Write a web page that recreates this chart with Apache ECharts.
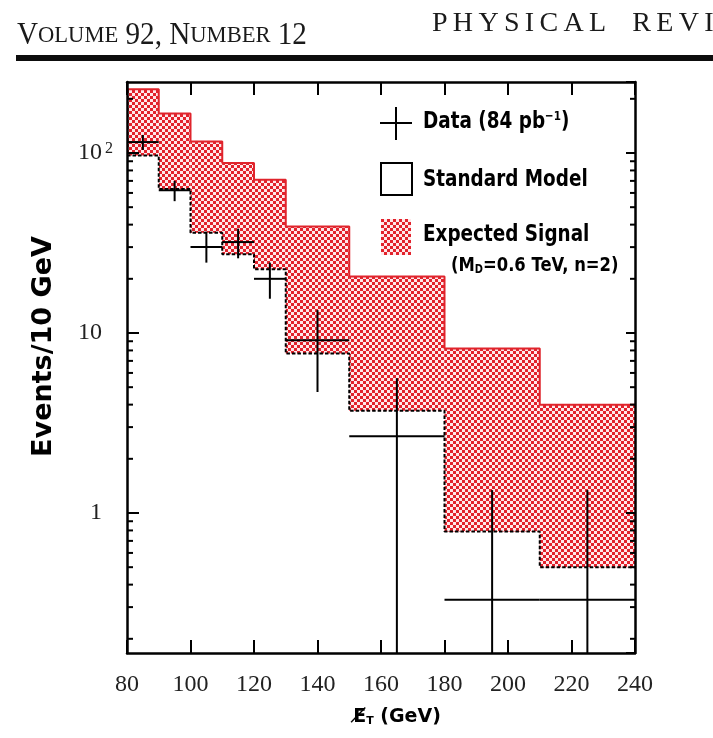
<!DOCTYPE html>
<html>
<head>
<meta charset="utf-8">
<script src="https://cdn.jsdelivr.net/npm/echarts@6/dist/echarts.min.js"></script>
<style>
  html, body { margin: 0; padding: 0; background: #fff; }
  #chart { width: 713px; height: 738px; }
</style>
</head>
<body>
<div id="chart"></div>
<script>
// Missing-ET bins (GeV)
const binLow  = [80, 90, 100, 110, 120, 130, 150, 180, 210];
const binHigh = [90, 100, 110, 120, 130, 150, 180, 210, 240];
// Standard Model expectation, events / 10 GeV
const smExpected   = [97, 63, 36, 27.4, 22.6, 7.7, 3.7, 0.79, 0.5];
// Standard Model plus expected signal (M_D = 0.6 TeV, n = 2)
const smPlusSignal = [226, 166, 116, 88, 71, 39, 20.6, 8.2, 4.0];
// Observed data (84 pb^-1) with error bars; null = bar runs below the axis floor
const dataCenter = [85, 95, 105, 115, 125, 140, 165, 195, 225];
const dataValue  = [115, 62, 30, 32, 20, 9.1, 2.67, 0.33, 0.33];
const dataUpper  = [126, 70, 36.5, 38, 24.6, 13.4, 5.6, 1.34, 1.34];
const dataLower  = [104, 54, 24.6, 26, 15.5, 4.7, null, null, null];
// Axis ranges and ticks
const xRange = [80, 240];
const xStep = 20;
const yRange = [0.1668, 248];
const yMajorTicks  = [1, 10, 100];
const yMajorLabels = ['{m|1}', '{m|10}', '{n|10}{s|2}'];
const yMinorTicks  = [0.2, 0.3, 0.4, 0.5, 0.6, 0.7, 0.8, 0.9,
                      2, 3, 4, 5, 6, 7, 8, 9,
                      20, 30, 40, 50, 60, 70, 80, 90, 200];

const RED = 'rgb(224,36,44)';

// Red checker hatch used for the signal band
function makeHatch() {
  const n = 6, cell = 3;
  const c = document.createElement('canvas');
  c.width = n; c.height = n;
  const ctx = c.getContext('2d');
  const img = ctx.createImageData(n, n);
  for (let y = 0; y < n; y++) {
    for (let x = 0; x < n; x++) {
      const red = (Math.floor(x / cell) + Math.floor(y / cell)) % 2 === 0;
      const k = (y * n + x) * 4;
      img.data[k]     = red ? 226 : 255;
      img.data[k + 1] = red ? 34  : 232;
      img.data[k + 2] = red ? 44  : 234;
      img.data[k + 3] = 255;
    }
  }
  ctx.putImageData(img, 0, 0);
  return { image: c, repeat: 'repeat' };
}
const hatch = makeHatch();

const stepPoints = vals => binLow.map((lo, i) => [lo, vals[i]])
  .concat([[binHigh[binHigh.length - 1], vals[vals.length - 1]]]);

const axisLineStyle = { color: '#000', width: 2.5 };
const tickStyle = { color: '#000', width: 2 };
const boldSans = { fontFamily: 'DejaVu Sans', fontWeight: 'bold' };

const chart = echarts.init(document.getElementById('chart'), null, { renderer: 'canvas' });

chart.setOption({
  animation: false,
  backgroundColor: '#fff',
  grid: { left: 127, right: 78, top: 82, bottom: 85, containLabel: false },
  xAxis: [
    {
      type: 'value', position: 'bottom', min: xRange[0], max: xRange[1], interval: xStep, z: 10,
      axisLine: { show: true, onZero: false, lineStyle: axisLineStyle },
      axisTick: { show: true, inside: true, length: 13, lineStyle: tickStyle },
      axisLabel: { fontFamily: 'Liberation Serif', fontSize: 24, color: '#222', margin: 20 },
      splitLine: { show: false },
      name: '{e|E\u0338}{t|T}{g| (GeV)}',
      nameLocation: 'middle', nameGap: 55,
      nameTextStyle: {
        padding: [0, 0, 0, 32],
        rich: {
          e: { ...boldSans, fontSize: 19, color: '#000' },
          t: { ...boldSans, fontSize: 11, color: '#000', verticalAlign: 'bottom' },
          g: { ...boldSans, fontSize: 19, color: '#000' }
        }
      }
    },
    {
      type: 'value', position: 'top', min: xRange[0], max: xRange[1], interval: xStep, z: 10,
      axisLine: { show: true, onZero: false, lineStyle: axisLineStyle },
      axisTick: { show: true, inside: true, length: 13, lineStyle: tickStyle },
      axisLabel: { show: false },
      splitLine: { show: false }
    }
  ],
  yAxis: [
    {
      type: 'log', logBase: 10, position: 'left', min: yRange[0], max: yRange[1], z: 10,
      axisLine: { show: true, onZero: false, lineStyle: axisLineStyle },
      axisTick: { show: true, inside: true, length: 12, lineStyle: tickStyle },
      axisLabel: {
        margin: 14,
        showMinLabel: false, showMaxLabel: false,
        formatter: v => {
          const i = yMajorTicks.findIndex(t => Math.abs(Math.log10(v) - Math.log10(t)) < 1e-6);
          return i < 0 ? '' : yMajorLabels[i];
        },
        rich: {
          n: { fontFamily: 'Liberation Serif', fontSize: 24, color: '#222' },
          m: { fontFamily: 'Liberation Serif', fontSize: 24, color: '#222', padding: [0, 11, 0, 0] },
          s: { fontFamily: 'Liberation Serif', fontSize: 16, color: '#222', verticalAlign: 'top', padding: [0, 0, 0, 3] }
        }
      },
      splitLine: { show: false },
      name: 'Events/10 GeV',
      nameLocation: 'middle', nameRotate: 90, nameGap: 70,
      nameTextStyle: {
        ...boldSans, fontSize: 27, color: '#000',
        padding: [0, 0, 0, 42]
      }
    },
    {
      type: 'log', logBase: 10, position: 'right', min: yRange[0], max: yRange[1], z: 10,
      axisLine: { show: true, onZero: false, lineStyle: axisLineStyle },
      axisTick: { show: true, inside: true, length: 9, lineStyle: tickStyle },
      axisLabel: { show: false },
      splitLine: { show: false }
    }
  ],
  series: [
    {
      // hatched band between SM and SM + signal
      name: 'Expected Signal', type: 'custom', z: 2, silent: true,
      data: binLow.map((lo, i) => [lo, binHigh[i], smExpected[i], smPlusSignal[i]]),
      encode: { x: [0, 1], y: [2, 3] },
      renderItem(params, api) {
        const tl = api.coord([api.value(0), api.value(3)]);
        const br = api.coord([api.value(1), api.value(2)]);
        return {
          type: 'rect',
          shape: { x: tl[0], y: tl[1], width: br[0] - tl[0], height: br[1] - tl[1] },
          style: { fill: hatch }
        };
      }
    },
    {
      name: 'SM + signal', type: 'line', step: 'end', z: 3, silent: true,
      showSymbol: false, symbol: 'none',
      data: stepPoints(smPlusSignal),
      lineStyle: { color: RED, width: 2 }
    },
    {
      name: 'Standard Model', type: 'line', step: 'end', z: 4, silent: true,
      showSymbol: false, symbol: 'none',
      data: stepPoints(smExpected),
      lineStyle: { color: '#000', width: 2, type: [3.5, 2] }
    },
    {
      name: 'Data', type: 'custom', z: 5, silent: true,
      data: dataCenter.map((c, i) => [c, binLow[i], binHigh[i], dataValue[i], dataLower[i], dataUpper[i]]),
      encode: { x: 0, y: 3 },
      renderItem(params, api) {
        const cs = params.coordSys;
        const x = api.value(0), v = api.value(3);
        const lo = api.value(4), hi = api.value(5);
        const pL = api.coord([api.value(1), v]);
        const pR = api.coord([api.value(2), v]);
        const pc = api.coord([x, v]);
        const yTop = api.coord([x, hi])[1];
        const yBot = (lo == null || isNaN(lo) || lo <= 0) ? cs.y + cs.height : api.coord([x, lo])[1];
        const st = { stroke: '#000', lineWidth: 2 };
        return {
          type: 'group',
          children: [
            { type: 'line', shape: { x1: pL[0], y1: pL[1], x2: pR[0], y2: pR[1] }, style: st },
            { type: 'line', shape: { x1: pc[0], y1: yTop, x2: pc[0], y2: yBot }, style: st }
          ]
        };
      }
    },
    {
      // minor log ticks on the left and right frame
      name: 'minor ticks', type: 'custom', z: 11, silent: true,
      data: yMinorTicks.map(v => [xRange[0], v]),
      encode: { x: 0, y: 1 },
      renderItem(params, api) {
        const cs = params.coordSys;
        const y = api.coord([api.value(0), api.value(1)])[1];
        const st = { stroke: '#000', lineWidth: 2 };
        return {
          type: 'group',
          children: [
            { type: 'line', shape: { x1: cs.x, y1: y, x2: cs.x + 6, y2: y }, style: st },
            { type: 'line', shape: { x1: cs.x + cs.width, y1: y, x2: cs.x + cs.width - 5, y2: y }, style: st }
          ]
        };
      }
    }
  ],
  graphic: [
    // running head
    {
      type: 'text', x: 17, y: 36, scaleX: 0.94, silent: true,
      style: {
        text: '{b|V}{s|OLUME}{b| 92, N}{s|UMBER}{b| 12}',
        textVerticalAlign: 'middle',
        rich: {
          b: { fontFamily: 'Liberation Serif', fontSize: 31, fill: '#1a1a1a' },
          s: { fontFamily: 'Liberation Serif', fontSize: 24, fill: '#1a1a1a' }
        }
      }
    },
    {
      type: 'text', x: 432, y: 24, silent: true,
      style: {
        text: 'PHYSICAL REVIEW LETTERS'.split('').map(ch => ch === ' ' ? '{sp| }' : '{c|' + ch + '}').join(''),
        textVerticalAlign: 'middle',
        rich: {
          c: { fontFamily: 'Liberation Serif', fontSize: 28, fill: '#1a1a1a', padding: [0, 5.3, 0, 0] },
          sp: { fontFamily: 'Liberation Serif', fontSize: 28, fill: '#1a1a1a', padding: [0, 14, 0, 0] }
        }
      }
    },
    { type: 'rect', silent: true, shape: { x: 16, y: 55, width: 700, height: 6 }, style: { fill: '#0d0d0d' } },

    // legend
    { type: 'line', silent: true, shape: { x1: 380, y1: 123, x2: 412, y2: 123 }, style: { stroke: '#000', lineWidth: 2 } },
    { type: 'line', silent: true, shape: { x1: 396, y1: 107, x2: 396, y2: 140 }, style: { stroke: '#000', lineWidth: 2 } },
    {
      type: 'text', x: 423, y: 122, scaleX: 0.8, silent: true,
      style: {
        text: '{t|Data (84 pb}{u|\u22121}{t|)}',
        textVerticalAlign: 'middle',
        rich: {
          t: { ...boldSans, fontSize: 23, fill: '#000' },
          u: { ...boldSans, fontSize: 13, fill: '#000', verticalAlign: 'top' }
        }
      }
    },
    { type: 'rect', silent: true, shape: { x: 381, y: 163, width: 31, height: 32 }, style: { fill: 'none', stroke: '#000', lineWidth: 2 } },
    {
      type: 'text', x: 423, y: 180, scaleX: 0.8, silent: true,
      style: { text: 'Standard Model', textVerticalAlign: 'middle', ...boldSans, fontSize: 23, fill: '#000' }
    },
    { type: 'rect', silent: true, shape: { x: 381, y: 219, width: 30, height: 36 }, style: { fill: hatch } },
    {
      type: 'text', x: 423, y: 235, scaleX: 0.8, silent: true,
      style: { text: 'Expected Signal', textVerticalAlign: 'middle', ...boldSans, fontSize: 23, fill: '#000' }
    },
    {
      type: 'text', x: 451, y: 266, scaleX: 0.82, silent: true,
      style: {
        text: '{t|(M}{d|D}{t|=0.6 TeV, n=2)}',
        textVerticalAlign: 'middle',
        rich: {
          t: { ...boldSans, fontSize: 20, fill: '#000' },
          d: { ...boldSans, fontSize: 12, fill: '#000', verticalAlign: 'bottom' }
        }
      }
    }
  ]
});
</script>
</body>
</html>
